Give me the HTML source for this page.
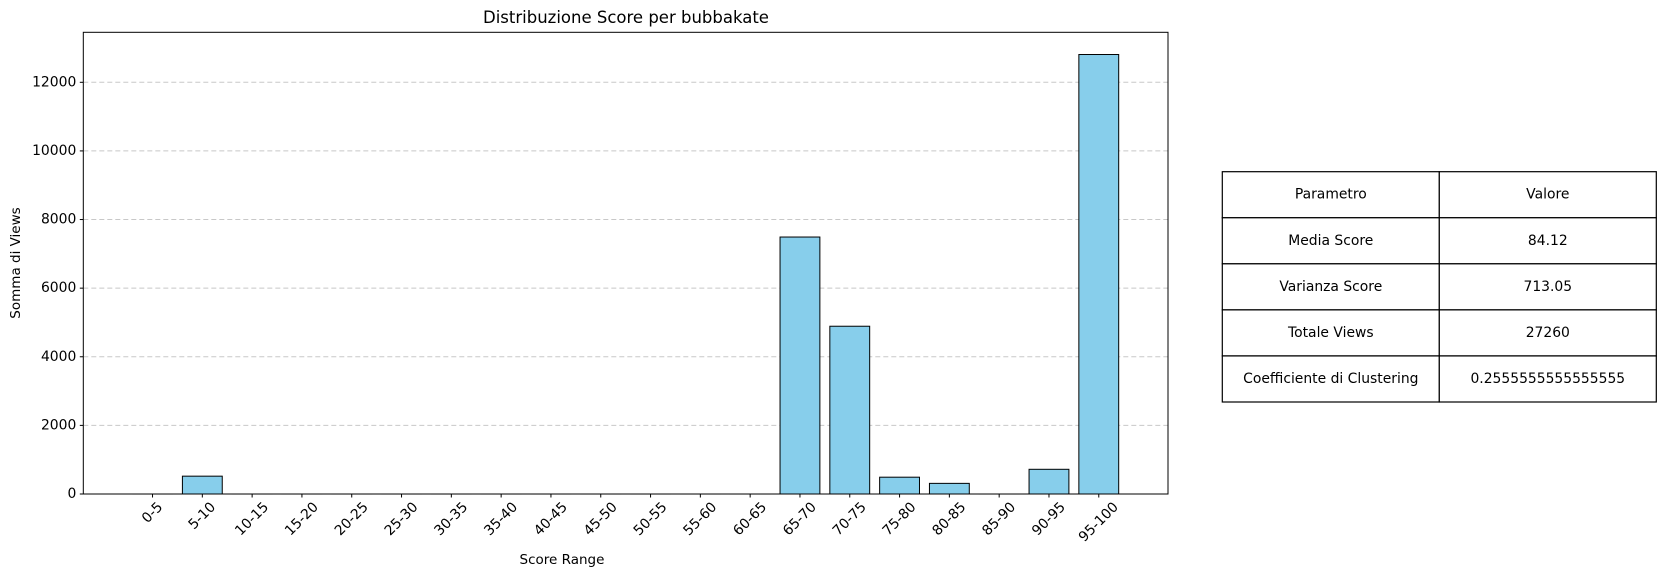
<!DOCTYPE html>
<html><head><meta charset="utf-8"><style>
body{margin:0;background:#fff;}
svg{display:block;font-family:"DejaVu Sans","Liberation Sans",sans-serif;}
</style></head><body>
<svg id="chart" width="1666" height="578">
<text x="626" y="23" font-size="16.5" text-anchor="middle">Distribuzione Score per bubbakate</text>
<text x="562" y="564" font-size="13.5" text-anchor="middle">Score Range</text>
<text transform="translate(20,263) rotate(-90)" font-size="13.5" text-anchor="middle">Somma di Views</text>
<g id="grid"></g><g id="bars"></g><g id="axes"></g>
<g id="table"></g>
</svg>
<script>
const categories=["0-5","5-10","10-15","15-20","20-25","25-30","30-35","35-40","40-45","45-50","50-55","55-60","60-65","65-70","70-75","75-80","80-85","85-90","90-95","95-100"];
const views=[0,520,0,0,0,0,0,0,0,0,0,0,0,7490,4890,490,310,0,720,12810];
const yTicks=[0,2000,4000,6000,8000,10000,12000];
const tableRows=[["Parametro","Valore"],["Media Score","84.12"],["Varianza Score","713.05"],["Totale Views","27260"],["Coefficiente di Clustering","0.2555555555555555"]];
const NS="http://www.w3.org/2000/svg";
const L=83.3,R=1168,T=32.3,B=494;
const xMin=-1.39,xMax=20.39;
function xs(i){return L+(i-xMin)/(xMax-xMin)*(R-L);}
function ys(v){return B-v/12000*(B-82.3);}
function mk(tag,attrs,parent){const e=document.createElementNS(NS,tag);for(const k in attrs)e.setAttribute(k,attrs[k]);parent.appendChild(e);return e;}
const grid=document.getElementById('grid'),bars=document.getElementById('bars'),axes=document.getElementById('axes');
yTicks.forEach(v=>{
  const y=ys(v);
  if(v>0){const g=mk('line',{x1:L,x2:R,y1:y,y2:y,stroke:'#b0b0b0','stroke-opacity':0.7,'stroke-dasharray':'5,3','stroke-width':1},grid);
  
  }
  mk('line',{x1:L-3.5,x2:L,y1:y,y2:y,stroke:'#000','stroke-width':1},axes);
  const t=mk('text',{x:L-7,y:y,'font-size':13.9,'text-anchor':'end','dominant-baseline':'central'},axes);
  t.textContent=v;
  
  
});
const bw=0.8*(xs(1)-xs(0));
categories.forEach((c,i)=>{
  const x=xs(i);const y=ys(views[i]);
  const r=mk('rect',{x:x-bw/2,y:y,width:bw,height:Math.max(B-y,0.01),fill:'#87ceeb',stroke:'#000','stroke-width':1},bars);
  
  
  mk('line',{x1:x,x2:x,y1:B,y2:B+3.5,stroke:'#000','stroke-width':1},axes);
  const t=mk('text',{'font-size':13.9,'text-anchor':'middle','dominant-baseline':'central'},axes);
  t.textContent=c;
  
  
  const w=t.getComputedTextLength();
  const h=(w+11)/Math.SQRT2;
  const cy=B+7+h/2;
  t.setAttribute('x',x);t.setAttribute('y',cy);
  t.setAttribute('transform','rotate(-45 '+x+' '+cy+')');
});
const frame=mk('rect',{x:L,y:T,width:R-L,height:B-T,fill:'none',stroke:'#000','stroke-width':1},axes);


const tb=document.getElementById('table');
const cx=[1222.3,1439.3,1656.3];const rh=46.06;const ty0=171.7;
tableRows.forEach((row,ri)=>{
  row.forEach((cell,ci)=>{
    const r=mk('rect',{x:cx[ci],y:ty0+ri*rh,width:cx[ci+1]-cx[ci],height:rh,fill:'#fff',stroke:'#000','stroke-width':1.2},tb);
    
    
    const t=mk('text',{x:(cx[ci]+cx[ci+1])/2,y:ty0+ri*rh+rh/2,'font-size':13.9,'text-anchor':'middle','dominant-baseline':'central'},tb);
    t.textContent=cell;
    
    
  });
});
</script>
</body></html>
